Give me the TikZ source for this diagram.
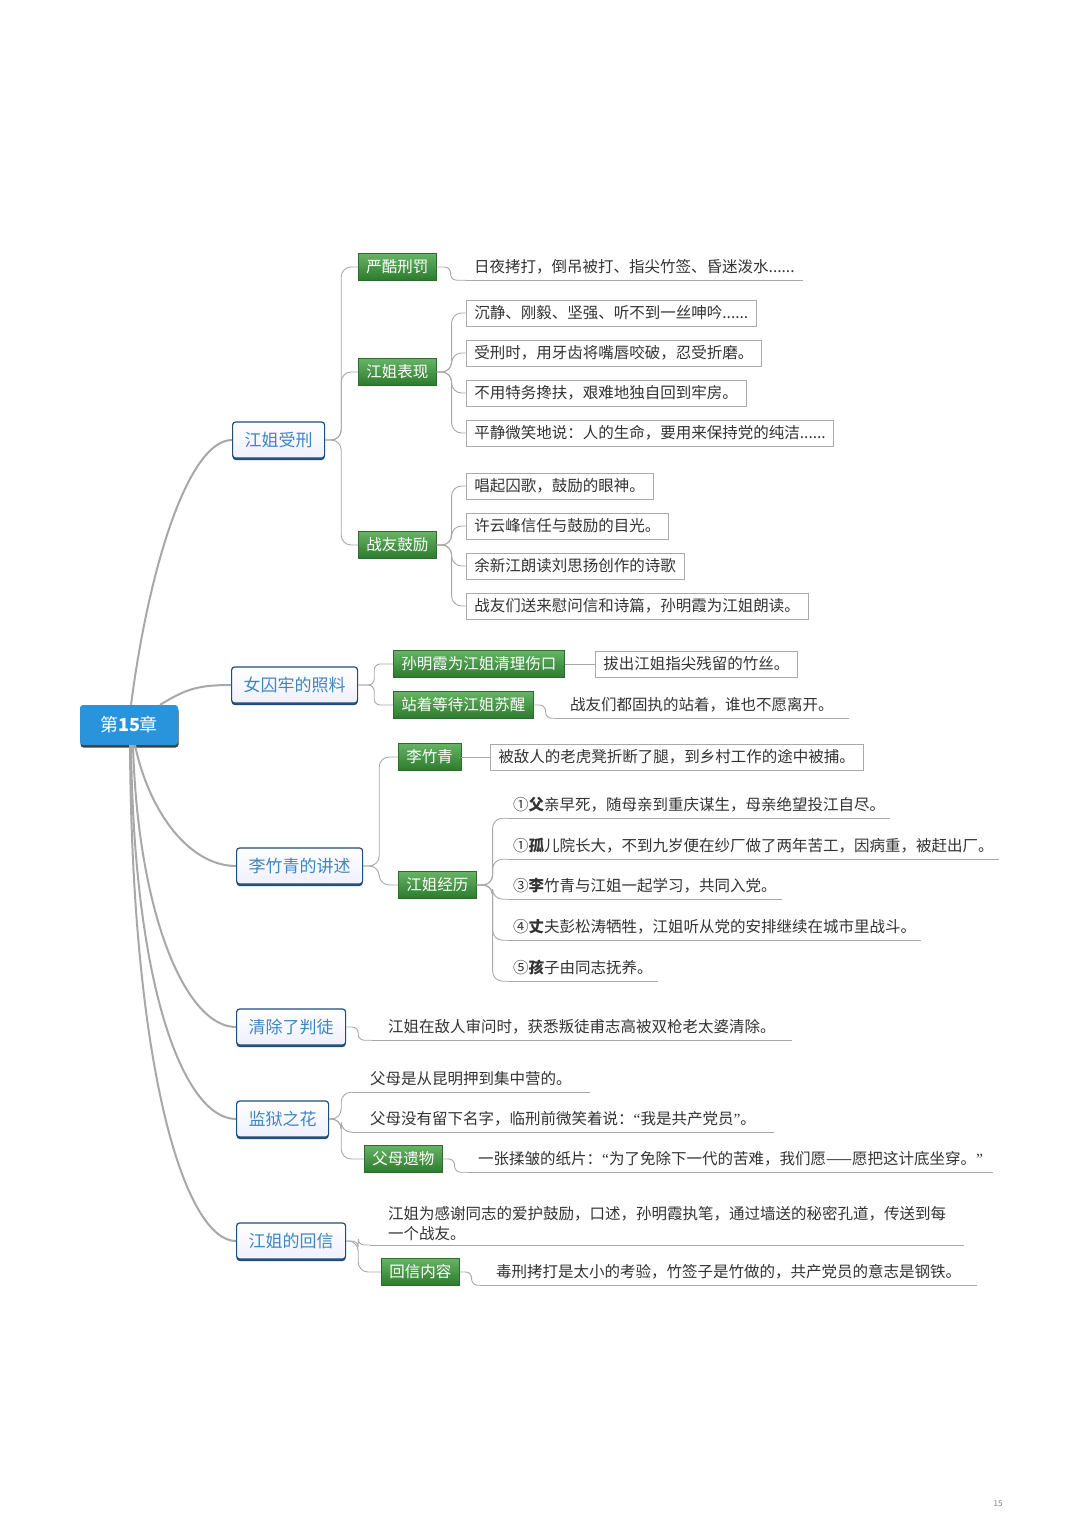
\documentclass[tikz,border=0pt]{standalone}
\usepackage{fontspec}
\setmainfont{Noto Sans CJK SC}
\newfontfamily\qf{Liberation Serif}
\usetikzlibrary{shadows,calc}
\definecolor{rootblue}{HTML}{2994DC}
\definecolor{lonebd}{HTML}{1F4D78}
\definecolor{lonetx}{HTML}{3E86BF}
\definecolor{gtop}{HTML}{66B366}
\definecolor{gbot}{HTML}{2C7A2C}
\definecolor{gbd}{HTML}{2B6B2B}
\definecolor{linegray}{HTML}{A8A8A8}
\definecolor{txt}{HTML}{333333}
\definecolor{leafgray}{HTML}{AAAAAA}
\newcommand{\lf}{\fontsize{15.5}{20}\selectfont}
\newcommand{\oq}{{\qf\char"201C}}
\newcommand{\cq}{{\qf\char"201D}}
\begin{document}
\begin{tikzpicture}[x=1pt,y=-1pt,
  rootbox/.style={fill=rootblue, text=white, rounded corners=3pt, minimum width=98pt, minimum height=40pt, inner sep=0pt,
    font=\fontsize{18}{20}\selectfont, drop shadow={shadow xshift=0.5pt,shadow yshift=-2.5pt,fill=black!75,opacity=1}},
  lone/.style={draw=lonebd, line width=1.2pt, top color=white, bottom color=blue!6, text=lonetx, rounded corners=3pt,
    minimum height=36pt, inner xsep=12pt, inner ysep=0pt, anchor=west, font=\fontsize{17}{20}\selectfont,
    drop shadow={shadow xshift=0pt, shadow yshift=-2pt, fill=lonebd, opacity=1}},
  gbox/.style={draw=gbd, line width=0.6pt, top color=gtop, bottom color=gbot, text=white, minimum height=27pt,
    inner xsep=8pt, inner ysep=0pt, anchor=west, font=\lf},
  leafbox/.style={draw=leafgray, line width=0.8pt, fill=white, text=txt, minimum height=26pt,
    inner xsep=8pt, inner ysep=0pt, anchor=west, font=\lf},
  ulnode/.style={text=txt, minimum height=26pt, inner xsep=#1, inner ysep=0pt, anchor=west, font=\lf},
  ulnode/.default=8pt,
  conn/.style={draw=linegray, line width=0.9pt, rounded corners=10pt},
  sconn/.style={draw=linegray, line width=0.9pt, rounded corners=6pt},
  rconn/.style={draw=linegray, line width=2pt},
  uline/.style={draw=linegray, line width=0.9pt}
]
\useasboundingbox[fill=white] (0,0) rectangle (1080,1534);

% root
\node[rootbox] (root) at (129,725) {第\textbf{15}章};

% level 1
\node[lone] (a) at (232,440) {江姐受刑};
\node[lone] (b) at (231,685) {女囚牢的照料};
\node[lone] (c) at (236,866) {李竹青的讲述};
\node[lone] (d) at (236,1027) {清除了判徒};
\node[lone] (e) at (236,1119) {监狱之花};
\node[lone] (f) at (236,1241) {江姐的回信};

% green boxes
\node[gbox] (a1) at (358,267) {严酷刑罚};
\node[gbox] (a2) at (358,372) {江姐表现};
\node[gbox] (a3) at (358,545) {战友鼓励};
\node[gbox] (b1) at (393,664) {孙明霞为江姐清理伤口};
\node[gbox] (b2) at (393,705) {站着等待江姐苏醒};
\node[gbox] (c1) at (398,757) {李竹青};
\node[gbox] (c2) at (398,885) {江姐经历};
\node[gbox] (e3) at (364,1159) {父母遗物};
\node[gbox] (f2) at (381,1272) {回信内容};

% leaves
\node[ulnode] (a11) at (466,267) {日夜拷打，倒吊被打、指尖竹签、昏迷泼水......};
\node[leafbox] (a21) at (466,313) {沉静、刚毅、坚强、听不到一丝呻吟......};
\node[leafbox] (a22) at (466,353) {受刑时，用牙齿将嘴唇咬破，忍受折磨。};
\node[leafbox] (a23) at (466,393) {不用特务搀扶，艰难地独自回到牢房。};
\node[leafbox] (a24) at (466,433) {平静微笑地说：人的生命，要用来保持党的纯洁......};
\node[leafbox] (a31) at (466,486) {唱起囚歌，鼓励的眼神。};
\node[leafbox] (a32) at (466,526) {许云峰信任与鼓励的目光。};
\node[leafbox] (a33) at (466,566) {余新江朗读刘思扬创作的诗歌};
\node[leafbox] (a34) at (466,606) {战友们送来慰问信和诗篇，孙明霞为江姐朗读。};
\node[leafbox] (b11) at (595,664) {拔出江姐指尖残留的竹丝。};
\node[ulnode=15pt] (b21) at (555,705) {战友们都固执的站着，谁也不愿离开。};
\node[leafbox] (c11) at (490,757) {被敌人的老虎凳折断了腿，到乡村工作的途中被捕。};
\node[ulnode=5pt] (c21) at (508,805) {①\textbf{父}亲早死，随母亲到重庆谋生，母亲绝望投江自尽。};
\node[ulnode=5pt] (c22) at (508,846) {①\textbf{孤}儿院长大，不到九岁便在纱厂做了两年苦工，因病重，被赶出厂。};
\node[ulnode=5pt] (c23) at (508,886) {③\textbf{李}竹青与江姐一起学习，共同入党。};
\node[ulnode=5pt] (c24) at (508,927) {④\textbf{丈}夫彭松涛牺牲，江姐听从党的安排继续在城市里战斗。};
\node[ulnode=5pt] (c25) at (508,968) {⑤\textbf{孩}子由同志抚养。};
\node[ulnode=16pt] (d1) at (372,1027) {江姐在敌人审问时，获悉叛徒甫志高被双枪老太婆清除。};
\node[ulnode=18pt] (e1) at (352,1079) {父母是从昆明押到集中营的。};
\node[ulnode=18pt] (e2) at (352,1119) {父母没有留下名字，临刑前微笑着说：\oq 我是共产党员\cq 。};
\node[ulnode=10pt] (e31) at (468,1159) {一张揉皱的纸片：\oq 为了免除下一代的苦难，我们愿——愿把这计底坐穿。\cq};
\node[text=txt, font=\lf, align=left, inner xsep=18pt, inner ysep=4pt, anchor=south west] (f1) at (370,1245)
  {江姐为感谢同志的爱护鼓励，口述，孙明霞执笔，通过墙送的秘密孔道，传送到每\\一个战友。};
\node[ulnode=16pt] (f21) at (480,1272) {毒刑拷打是太小的考验，竹签子是竹做的，共产党员的意志是钢铁。};

\node[font=\fontsize{8}{9}\selectfont, text=gray] (pg) at (998,1504) {15};

% root connectors
\draw[rconn] ([xshift=2pt]root.north) .. controls +(19,-145) and +(-42,0) .. (a.west);
\draw[rconn] ([xshift=31pt]root.north) .. controls +(25,-15) and +(-35,0) .. (b.west);
\draw[rconn] ([xshift=6pt]root.south) .. controls +(15,70) and +(-45,0) .. (c.west);
\draw[rconn] ([xshift=4pt]root.south) .. controls +(5,170) and +(-50,0) .. (d.west);
\draw[rconn] ([xshift=2pt]root.south) .. controls +(3,250) and +(-50,0) .. (e.west);
\draw[rconn] ([xshift=1pt]root.south) .. controls +(2,330) and +(-50,0) .. (f.west);

% level 1 -> level 2
\foreach \t in {a1,a2,a3} \draw[conn] (a.east) -- ++(16,0) |- (\t.west);
\foreach \t in {b1,b2} \draw[sconn] (b.east) -- ++(16,0) |- (\t.west);
\foreach \t in {c1,c2} \draw[conn] (c.east) -- ++(16,0) |- (\t.west);
\draw[sconn] (d.east) -- ++(12,0) |- (d1.south west);
\foreach \t in {e1,e2} \draw[conn] (e.east) -- ++(12,0) |- (\t.south west);
\draw[conn] (e.east) -- ++(12,0) |- (e3.west);
\draw[sconn] (f.east) -- ++(12,0) |- (f1.south west);
\draw[conn] (f.east) -- ++(12,0) |- (f2.west);

% level 2 -> leaves
\draw[sconn] (a1.east) -- ++(14,0) |- (a11.south west);
\foreach \t in {a21,a22,a23,a24} \draw[conn] (a2.east) -- ++(15,0) |- (\t.west);
\foreach \t in {a31,a32,a33,a34} \draw[conn] (a3.east) -- ++(15,0) |- (\t.west);
\draw[conn] (b1.east) -- (b11.west);
\draw[sconn] (b2.east) -- ++(12,0) |- (b21.south west);
\draw[conn] (c1.east) -- (c11.west);
\foreach \t in {c21,c22,c23,c24,c25} \draw[conn] (c2.east) -- ++(16,0) |- (\t.south west);
\draw[sconn] (e3.east) -- ++(12,0) |- (e31.south west);
\draw[sconn] (f2.east) -- ++(12,0) |- (f21.south west);

% underlines
\foreach \n in {a11,b21,c21,c22,c23,c24,c25,d1,e1,e2,e31,f1,f21}
  \draw[uline] (\n.south west) -- (\n.south east);
\end{tikzpicture}
\end{document}
